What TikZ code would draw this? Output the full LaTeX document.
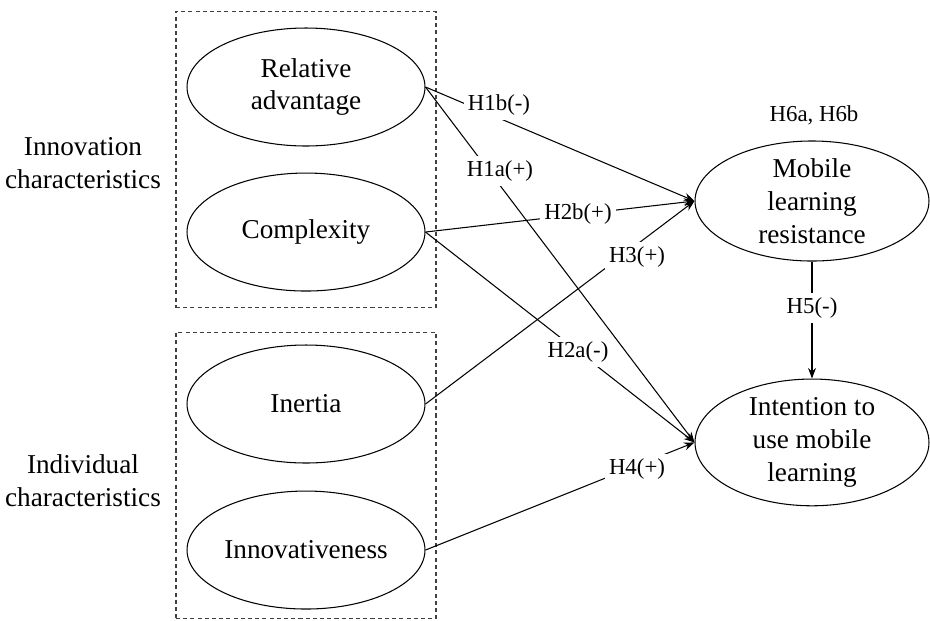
\documentclass[tikz,border=0pt]{standalone}
\usepackage{fontspec}
\setmainfont{Liberation Serif}
\usetikzlibrary{positioning}
\usetikzlibrary{fit}
\usetikzlibrary{arrows.meta}
\usetikzlibrary{shapes.geometric}
\tikzset{>={Stealth[length=6pt,width=4.5pt]}}
\tikzset{var/.style={draw,ellipse, minimum width=4.76cm, minimum height=2.36cm, inner sep=0pt, align=center, font=\fontsize{15.5}{18.7}\selectfont}}
\tikzset{hyp/.style={fill=white, inner sep=2.5pt, font=\fontsize{13}{15}\selectfont}}
\tikzset{grp/.style={draw=black!75, line width=0.7pt, dash pattern=on 2.3pt off 1.8pt, inner xsep=0.21cm}}
\tikzset{grplabel/.style={align=center, inner sep=0pt, font=\fontsize{15.5}{18.7}\selectfont}}

\begin{document}
\begin{tikzpicture}[x=0.02cm, y=-0.02cm, line width=0.6pt]
\useasboundingbox (0,0) rectangle (930,620);

\node[var] (ra) at (306,87) {Relative\\advantage};
\node[var] (cx) [below=0.52cm of ra] {Complexity};
\node[var] (in) at (306,404) {Inertia};
\node[var] (iv) [below=0.54cm of in] {Innovativeness};

\node[var, minimum width=4.68cm] (mlr) at (812,201) {Mobile\\learning\\resistance};
\node[var, minimum width=4.68cm] (itu) [below=2.34cm of mlr] {Intention to\\use mobile\\learning};

\node[grp, fit=(ra) (cx), inner ysep=0.32cm] (inno) {};
\node[grp, fit=(in) (iv), inner ysep=0.21cm, yshift=0.03cm] (indi) {};

\node[grplabel] (innolabel) [left=0.28cm of inno, yshift=-0.08cm] {Innovation\\characteristics};
\node[grplabel] (indilabel) [left=0.28cm of indi, yshift=-0.1cm] {Individual\\characteristics};

\draw[->] (ra.east) -- (mlr.west);
\draw[->] (ra.east) -- (itu.west);
\draw[->] (cx.east) -- (mlr.west);
\draw[->] (cx.east) -- (itu.west);
\draw[->] (in.east) -- (mlr.west);
\draw[->] (iv.east) -- (itu.west);
\draw[->] (mlr) -- (itu);

\node[hyp] (h1b) at (499,105) {H1b(-)};
\node[hyp] (h1a) at (500,171) {H1a(+)};
\node[hyp] (h2b) at (578,214) {H2b(+)};
\node[hyp] (h3) at (637,257) {H3(+)};
\node[hyp] (h2a) at (578,352) {H2a(-)};
\node[hyp] (h4) at (637,469) {H4(+)};
\node[hyp] (h5) at (812,308) {H5(-)};
\node[hyp] (h6) at (814,115) {H6a, H6b};
\end{tikzpicture}
\end{document}
